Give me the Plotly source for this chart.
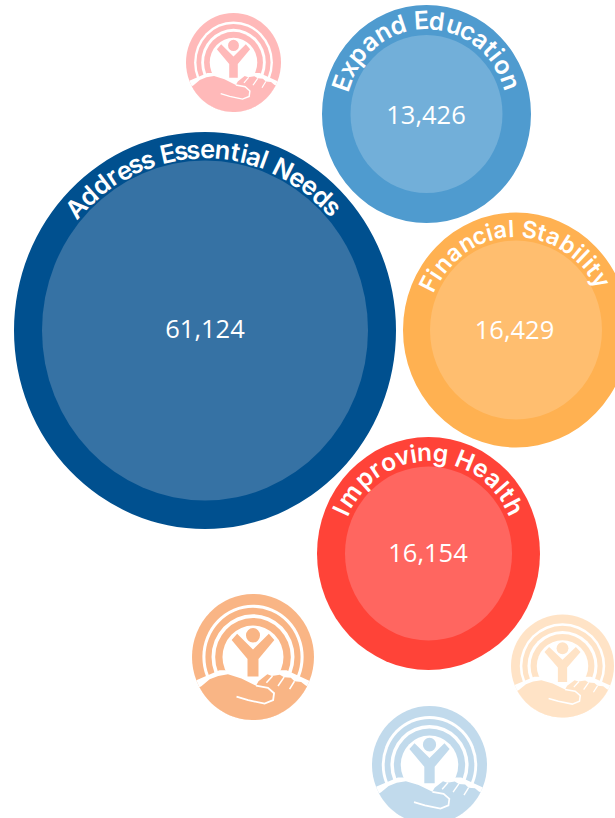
import numpy as np
import plotly.graph_objects as go

# Data
categories = ["Address Essential Needs", "Expand Education", "Financial Stability", "Improving Health"]
values = [61124, 13426, 16429, 16154]

# Layout of the bubbles (canvas pixels)
center_x = [205, 426.5, 516, 428.5]
center_y = [330.5, 114, 330, 553.5]
outer_rx = [191, 104.5, 113, 111.5]
outer_ry = [198.5, 109, 117.5, 116.5]
inner_rx = [163, 76, 86, 83.5]
inner_ry = [170, 79, 89.5, 87]
value_x = [205, 426, 514.5, 428]
value_y = [332, 118, 332.5, 555.5]
outer_colors = ["#00508F", "#4F9BCF", "#FFB151", "#FF4338"]
inner_colors = ["#3672A4", "#72AFD9", "#FFBE6F", "#FF6660"]
label_start = [-47.5, -70.5, -63, -65]
label_end = [47, 70, 60.5, 62.5]
label_radius = [0.915, 0.86, 0.865, 0.87]
label_size = [25.5, 25, 23.5, 24.5]

# Logos
logo_x = [233.5, 253, 562.5, 429.5]
logo_y = [62.5, 657, 666, 765]
logo_rx = [47.5, 61, 51.5, 57.5]
logo_ry = [49.5, 63, 51.5, 59]
logo_colors = ["#FFB9B9", "#F9B585", "#FFE3C6", "#C1DAEC"]

# Logo glyph outlines, in a unit disc
cut_pts = [(-.93, .37), (-.55, .21), (.55, .21), (.93, .38)]
person_pts = [(-.35, -.27), (-.26, -.37), (0, -.12), (.26, -.37), (.35, -.27), (.09, .03),
              (.09, .31), (-.09, .31), (-.09, .03)]
hand_top = [(-.847, .464), (-.71, .355), (-.57, .30), (-.41, .275), (-.19, .34), (.05, .455),
            (.09, .385), (.235, .275), (.31, .30), (.44, .28), (.51, .32), (.62, .33),
            (.68, .385), (.79, .395), (.858, .448)]
thumb_line = [(-.27, .63), (-.08, .685), (.19, .74), (.33, .685), (.345, .575), (.245, .49), (.05, .455)]
finger_gaps = [[(.32, .30), (.22, .41)], [(.51, .32), (.41, .46)], [(.68, .385), (.60, .51)]]
ring_radii = [(1, 0), (.83, 1), (.78, 0), (.68, 1), (.62, 0), (.5, 1)]

# Character advances (em)
adv = dict(zip("AdresEntialNxpucoFSbyImvgHh ",
               [.69, .61, .43, .57, .49, .56, .62, .39, .27, .56, .27, .76, .54, .61, .62, .48, .60,
                .52, .55, .61, .52, .33, .94, .52, .55, .74, .62, .26]))


def ell(cx, cy, rx, ry, fill):
    return dict(type="circle", xref="x", yref="y", x0=cx - rx, x1=cx + rx, y0=cy - ry, y1=cy + ry,
                fillcolor=fill, line_width=0, layer="below")


def poly(pts, cx, cy, rx, ry, fill=None, stroke=None, w=0):
    d = "M " + " L ".join(f"{cx + p[0] * rx:.2f},{cy + p[1] * ry:.2f}" for p in pts)
    if fill:
        d += " Z"
    s = dict(type="path", xref="x", yref="y", path=d, layer="below", line_width=w)
    s["fillcolor"] = fill if fill else "rgba(0,0,0,0)"
    if stroke:
        s["line_color"] = stroke
    return s


shapes = []
for cx, cy, rx, ry, col in zip(logo_x, logo_y, logo_rx, logo_ry, logo_colors):
    for r, white in ring_radii:
        shapes.append(ell(cx, cy, rx * r, ry * r, "#FFFFFF" if white else col))
    a0 = np.arctan2(hand_top[-1][1], hand_top[-1][0])
    a1 = np.arctan2(hand_top[0][1], hand_top[0][0])
    arc = [(np.cos(a), np.sin(a)) for a in np.linspace(a0, a1, 40)]
    cut_arc = [(np.cos(a), np.sin(a)) for a in np.linspace(np.arctan2(.38, .93), np.arctan2(.37, -.93), 40)]
    shapes.append(poly(cut_pts + cut_arc, cx, cy, rx, ry, fill="#FFFFFF"))
    shapes.append(poly(person_pts, cx, cy, rx, ry, fill=col))
    shapes.append(ell(cx, cy - .345 * ry, .115 * rx, .115 * ry, col))
    shapes.append(poly(hand_top + arc, cx, cy, rx, ry, fill=col))
    shapes.append(poly(thumb_line, cx, cy, rx, ry, stroke="#FFFFFF", w=rx * .03))
    for gap in finger_gaps:
        shapes.append(poly(gap, cx, cy, rx, ry, stroke="#FFFFFF", w=rx * .025))

for cx, cy, orx, ory, irx, iry, oc, ic in zip(center_x, center_y, outer_rx, outer_ry, inner_rx, inner_ry,
                                              outer_colors, inner_colors):
    shapes.append(ell(cx, cy, orx, ory, oc))
    shapes.append(ell(cx, cy, irx, iry, ic))

annotations = []
for name, cx, cy, rx, ry, a0, a1, rad, size in zip(categories, center_x, center_y, outer_rx, outer_ry,
                                                   label_start, label_end, label_radius, label_size):
    w = np.array([adv[c] for c in name])
    mids = np.cumsum(w) - w / 2
    t = (mids - mids[0]) / (mids[-1] - mids[0])
    for ch, f in zip(name, t):
        if ch == " ":
            continue
        ang = a0 + (a1 - a0) * f
        th = np.radians(ang)
        annotations.append(dict(x=cx + rad * rx * np.sin(th), y=cy - rad * ry * np.cos(th), xref="x", yref="y",
                                text=ch, showarrow=False, textangle=ang, xanchor="center", yanchor="middle",
                                font=dict(family="Inter", size=size, color="#FFFFFF", weight=600)))

fig = go.Figure(go.Scatter(
    x=value_x, y=value_y, mode="text", text=[f"{v:,}" for v in values], textposition="middle center",
    textfont=dict(family="Open Sans", size=25.5, color="#FFFFFF"), hoverinfo="skip"))
fig.update_layout(width=615, height=818, margin=dict(l=0, r=0, t=0, b=0), paper_bgcolor="#FFFFFF",
                  plot_bgcolor="#FFFFFF", showlegend=False, shapes=shapes, annotations=annotations,
                  xaxis=dict(range=[0, 615], visible=False, fixedrange=True),
                  yaxis=dict(range=[818, 0], visible=False, fixedrange=True))
fig.write_html("out.html", config={"displayModeBar": False},
               post_script="document.body.style.margin='0';document.documentElement.style.overflow='hidden';")
